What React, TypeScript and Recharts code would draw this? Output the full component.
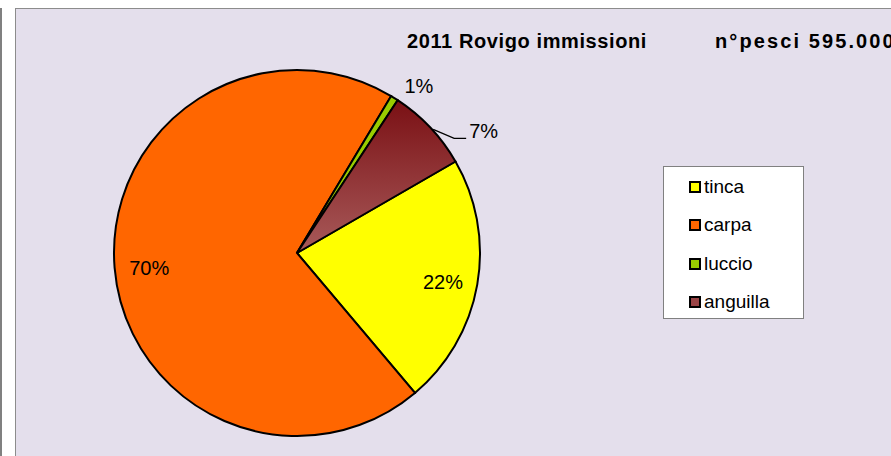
import React from "react";
import { PieChart, Pie, Cell, Legend } from "recharts";

const categories = ["tinca", "carpa", "luccio", "anguilla"];
const values = [132000, 415000, 4000, 44000];
const colors = ["#FFFF00", "#FF6600", "#99CC00", "url(#angGrad)"];
const legendColors = ["#FFFF00", "#FF6600", "#99CC00", "#9A4446"];
const titleLeft = "2011 Rovigo immissioni";
const titleRight = "n°pesci 595.000";

const data = categories.map((name, i) => ({ name, value: values[i] }));
const RAD = Math.PI / 180;

const renderLabel = (props: any) => {
  const { cx, cy, midAngle, outerRadius, percent, index } = props;
  const txt = `${Math.round(percent * 100)}%`;
  const cos = Math.cos(-midAngle * RAD);
  const sin = Math.sin(-midAngle * RAD);
  const style = { fontFamily: "Liberation Sans, Arial, sans-serif", fontSize: 20, fill: "#000" };
  if (index === 0 || index === 1) {
    const r = outerRadius * 0.81;
    return (
      <text x={cx + r * cos} y={cy + r * sin + 3} textAnchor="middle" dominantBaseline="central" style={style}>
        {txt}
      </text>
    );
  }
  const px = cx + outerRadius * cos;
  const py = cy + outerRadius * sin;
  if (index === 2) {
    return (
      <text x={px + 10} y={py - 12} textAnchor="start" dominantBaseline="central" style={style}>
        {txt}
      </text>
    );
  }
  const p1x = px + 24;
  const p1y = py + 11;
  return (
    <g>
      <polyline points={`${px + 3},${py + 2} ${p1x},${p1y} ${p1x + 12},${p1y}`} fill="none" stroke="#000" strokeWidth={1.3} />
      <text x={p1x + 15} y={p1y - 7} textAnchor="start" dominantBaseline="central" style={style}>
        {txt}
      </text>
    </g>
  );
};

const LegendBox = () => (
  <div
    style={{
      width: 141,
      height: 153,
      background: "#FFFFFF",
      border: "1px solid #808080",
      boxSizing: "border-box",
      paddingTop: 1,
      fontFamily: "Liberation Sans, Arial, sans-serif",
      fontSize: 19,
    }}
  >
    {categories.map((c, i) => (
      <div key={c} style={{ display: "flex", alignItems: "center", height: 38.3, paddingLeft: 25 }}>
        <span
          style={{
            display: "inline-block",
            width: 8,
            height: 8,
            background: legendColors[i],
            border: "2px solid #000",
            marginRight: 3,
          }}
        />
        <span>{c}</span>
      </div>
    ))}
  </div>
);

const titleStyle: React.CSSProperties = {
  position: "absolute",
  top: 29.5,
  whiteSpace: "pre",
  fontFamily: "Liberation Sans, Arial, sans-serif",
  fontWeight: "bold",
  fontSize: 20,
  color: "#000",
};

export default function App() {
  return (
    <div style={{ position: "absolute", left: 0, top: 0, width: 891, height: 456, background: "#FFFFFF", overflow: "hidden" }}>
      <div style={{ position: "absolute", left: 0, top: 8, width: 2, height: 448, background: "#808080" }} />
      <div
        style={{
          position: "absolute",
          left: 15,
          top: 8,
          width: 900,
          height: 460,
          background: "#E4DFEC",
          border: "1px solid #8C8C8C",
          boxSizing: "border-box",
        }}
      />
      <div style={{ ...titleStyle, left: 407, letterSpacing: 0.6 }}>{titleLeft}</div>
      <div style={{ ...titleStyle, left: 715, letterSpacing: 2.1 }}>{titleRight}</div>
      <div style={{ position: "absolute", left: 0, top: 0 }}>
        <PieChart width={891} height={456} margin={{ top: 0, right: 0, bottom: 0, left: 0 }}>
          <defs>
            <linearGradient id="angGrad" x1="0" y1="0" x2="0" y2="1">
              <stop offset="0%" stopColor="#7A1014" />
              <stop offset="100%" stopColor="#A85A5A" />
            </linearGradient>
          </defs>
          <Pie
            data={data}
            dataKey="value"
            nameKey="name"
            cx={297}
            cy={253}
            outerRadius={183}
            startAngle={30}
            endAngle={-330}
            stroke="#000"
            strokeWidth={2}
            label={renderLabel}
            labelLine={false}
            isAnimationActive={false}
          >
            {data.map((d, i) => (
              <Cell key={d.name} fill={colors[i]} />
            ))}
          </Pie>
          <Legend
            content={<LegendBox />}
            wrapperStyle={{ position: "absolute", left: 663, top: 166, width: 141, height: 153 }}
          />
        </PieChart>
      </div>
    </div>
  );
}
